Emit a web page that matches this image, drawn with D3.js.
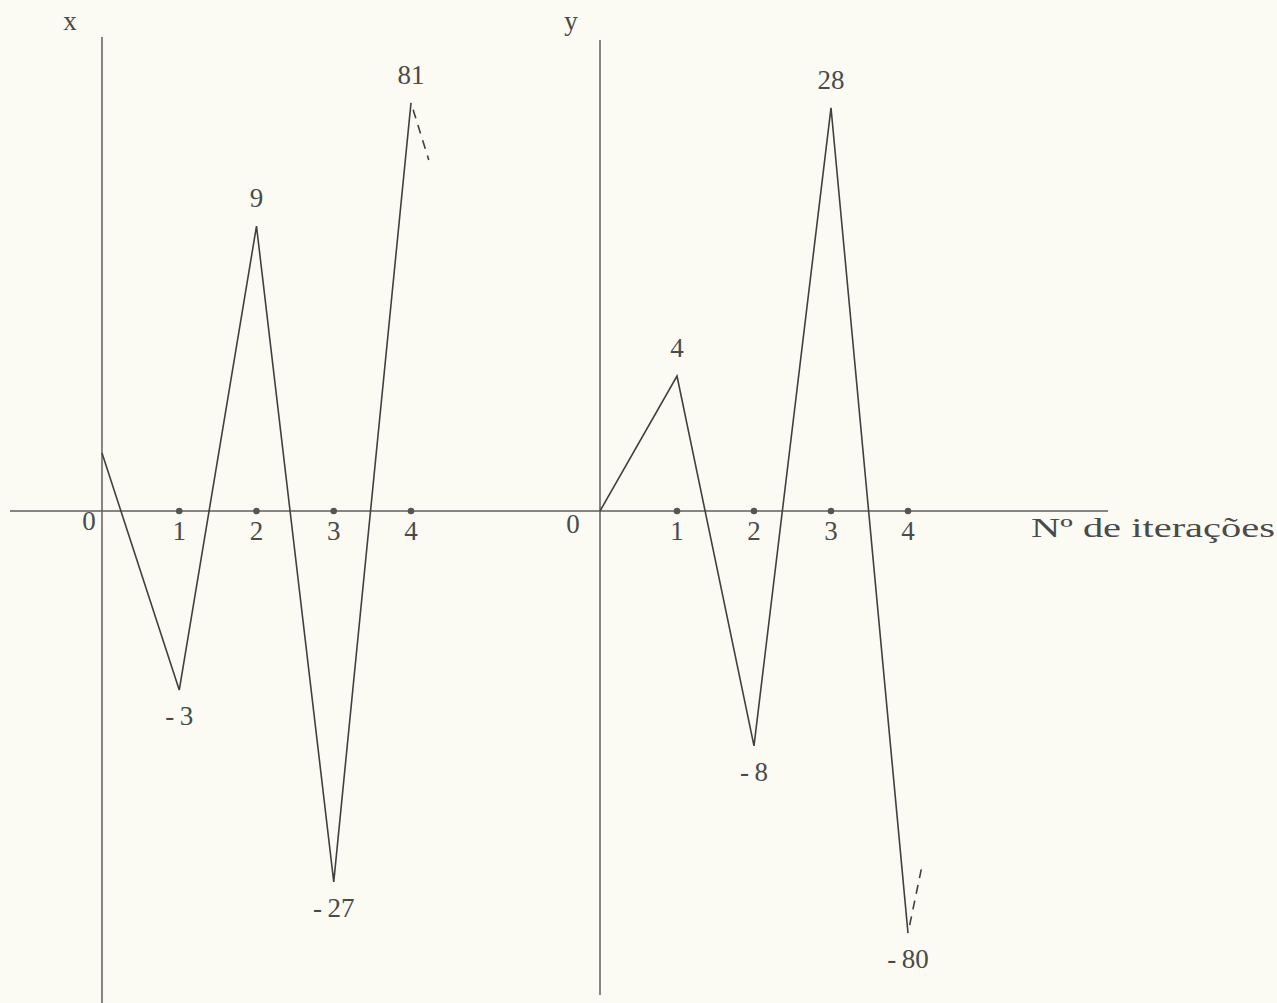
<!DOCTYPE html>
<html>
<head>
<meta charset="utf-8">
<script src="https://cdn.jsdelivr.net/npm/d3@7"></script>
<style>
  html, body { margin: 0; padding: 0; background: #fbfbf3; }
  svg { display: block; }
  text { font-family: "Liberation Serif", "DejaVu Serif", serif; fill: #4a4a4a; }
</style>
</head>
<body>
<svg id="chart" width="1277" height="1003"></svg>
<script>
// ---- data ----
const iterations = [0, 1, 2, 3, 4];
const tickLabels = ["0", "1", "2", "3", "4"];
// values written next to the points
const xValues = [1, -3, 9, -27, 81];
const yValues = [0, 4, -8, 28, -80];
// the sketch is not to scale: heights as drawn, in relative units (-100..100)
const xDrawnLevel = [12.9, -39.8, 63.3, -82.4, 90.7];
const yDrawnLevel = [0, 30, -52.2, 89.6, -93.8];
// dashed continuation after the last iteration (iteration, drawn level)
const xTail = [4.23, 78];
const yTail = [4.18, -79];
const axisTitleX = "x";
const axisTitleY = "y";
const iterTitle = "Nº de iterações";

// ---- layout ----
const svg = d3.select("#chart");
const ink = "#404040";
const axisInk = "#5e5e5e";

const level = d3.scaleLinear().domain([-100, 100]).range([961, 61]);
const baseY = level(0);

const panels = [
  { title: axisTitleX, values: xValues, levels: xDrawnLevel, tail: xTail,
    x: d3.scaleLinear().domain([0, 4]).range([102, 411]), zeroDx: -13, zeroDy: 13,
    axisTop: 37, axisBottom: 1003, titleDx: -32 },
  { title: axisTitleY, values: yValues, levels: yDrawnLevel, tail: yTail,
    x: d3.scaleLinear().domain([0, 4]).range([600, 908]), zeroDx: -27, zeroDy: 16,
    axisTop: 40, axisBottom: 995, titleDx: -29 }
];

// horizontal (iteration) axis, shared
svg.append("line")
  .attr("x1", 10).attr("x2", 1108)
  .attr("y1", baseY).attr("y2", baseY)
  .attr("stroke", axisInk).attr("stroke-width", 1.4);

svg.append("text")
  .attr("x", 1031).attr("y", baseY + 26)
  .attr("font-family", "'Liberation Mono', 'DejaVu Sans Mono', monospace")
  .attr("font-size", 27)
  .attr("fill", "#444")
  .attr("textLength", 244).attr("lengthAdjust", "spacingAndGlyphs")
  .text(iterTitle);

const fmt = v => v < 0 ? "-\u2009" + Math.abs(v) : String(v);

panels.forEach(p => {
  const g = svg.append("g");
  const x0 = p.x(0);

  // vertical axis
  g.append("line")
    .attr("x1", x0).attr("x2", x0)
    .attr("y1", p.axisTop).attr("y2", p.axisBottom)
    .attr("stroke", axisInk).attr("stroke-width", 1.5);

  // axis title
  g.append("text")
    .attr("x", x0 + p.titleDx).attr("y", 30)
    .attr("text-anchor", "middle")
    .attr("font-size", 27)
    .attr("fill", "#333")
    .text(p.title);

  // tick dots (iterations 1..4) and tick labels
  g.selectAll("circle.tick").data(iterations.filter(d => d > 0)).join("circle")
    .attr("class", "tick")
    .attr("cx", d => p.x(d)).attr("cy", baseY)
    .attr("r", 3.3).attr("fill", "#555");

  g.selectAll("text.tick").data(iterations).join("text")
    .attr("class", "tick")
    .attr("x", d => d === 0 ? x0 + p.zeroDx : p.x(d))
    .attr("y", d => baseY + (d === 0 ? p.zeroDy : 23))
    .attr("text-anchor", "middle")
    .attr("dominant-baseline", "middle")
    .attr("font-size", 27)
    .text((d, i) => tickLabels[i]);

  // the zig-zag line
  const pts = iterations.map((it, i) => [p.x(it), level(p.levels[i])]);
  g.append("path")
    .attr("d", d3.line()(pts))
    .attr("fill", "none")
    .attr("stroke", ink)
    .attr("stroke-width", 1.6)
    .attr("stroke-linejoin", "miter");

  // dashed continuation
  const last = pts[pts.length - 1];
  const tailPt = [p.x(p.tail[0]), level(p.tail[1])];
  const sx = last[0] + (tailPt[0] - last[0]) * 0.12;
  const sy = last[1] + (tailPt[1] - last[1]) * 0.12;
  g.append("line")
    .attr("x1", sx).attr("y1", sy)
    .attr("x2", tailPt[0]).attr("y2", tailPt[1])
    .attr("stroke", ink).attr("stroke-width", 1.6)
    .attr("stroke-dasharray", "9,7");

  // value labels (skip the unlabeled starting point)
  g.selectAll("text.val").data(iterations.filter(i => i > 0)).join("text")
    .attr("class", "val")
    .attr("x", i => p.x(i))
    .attr("y", i => level(p.levels[i]) + (p.values[i] >= 0 ? -25 : 29))
    .attr("text-anchor", "middle")
    .attr("dominant-baseline", "middle")
    .attr("font-size", 27)
    .text(i => fmt(p.values[i]));
});
</script>
</body>
</html>
